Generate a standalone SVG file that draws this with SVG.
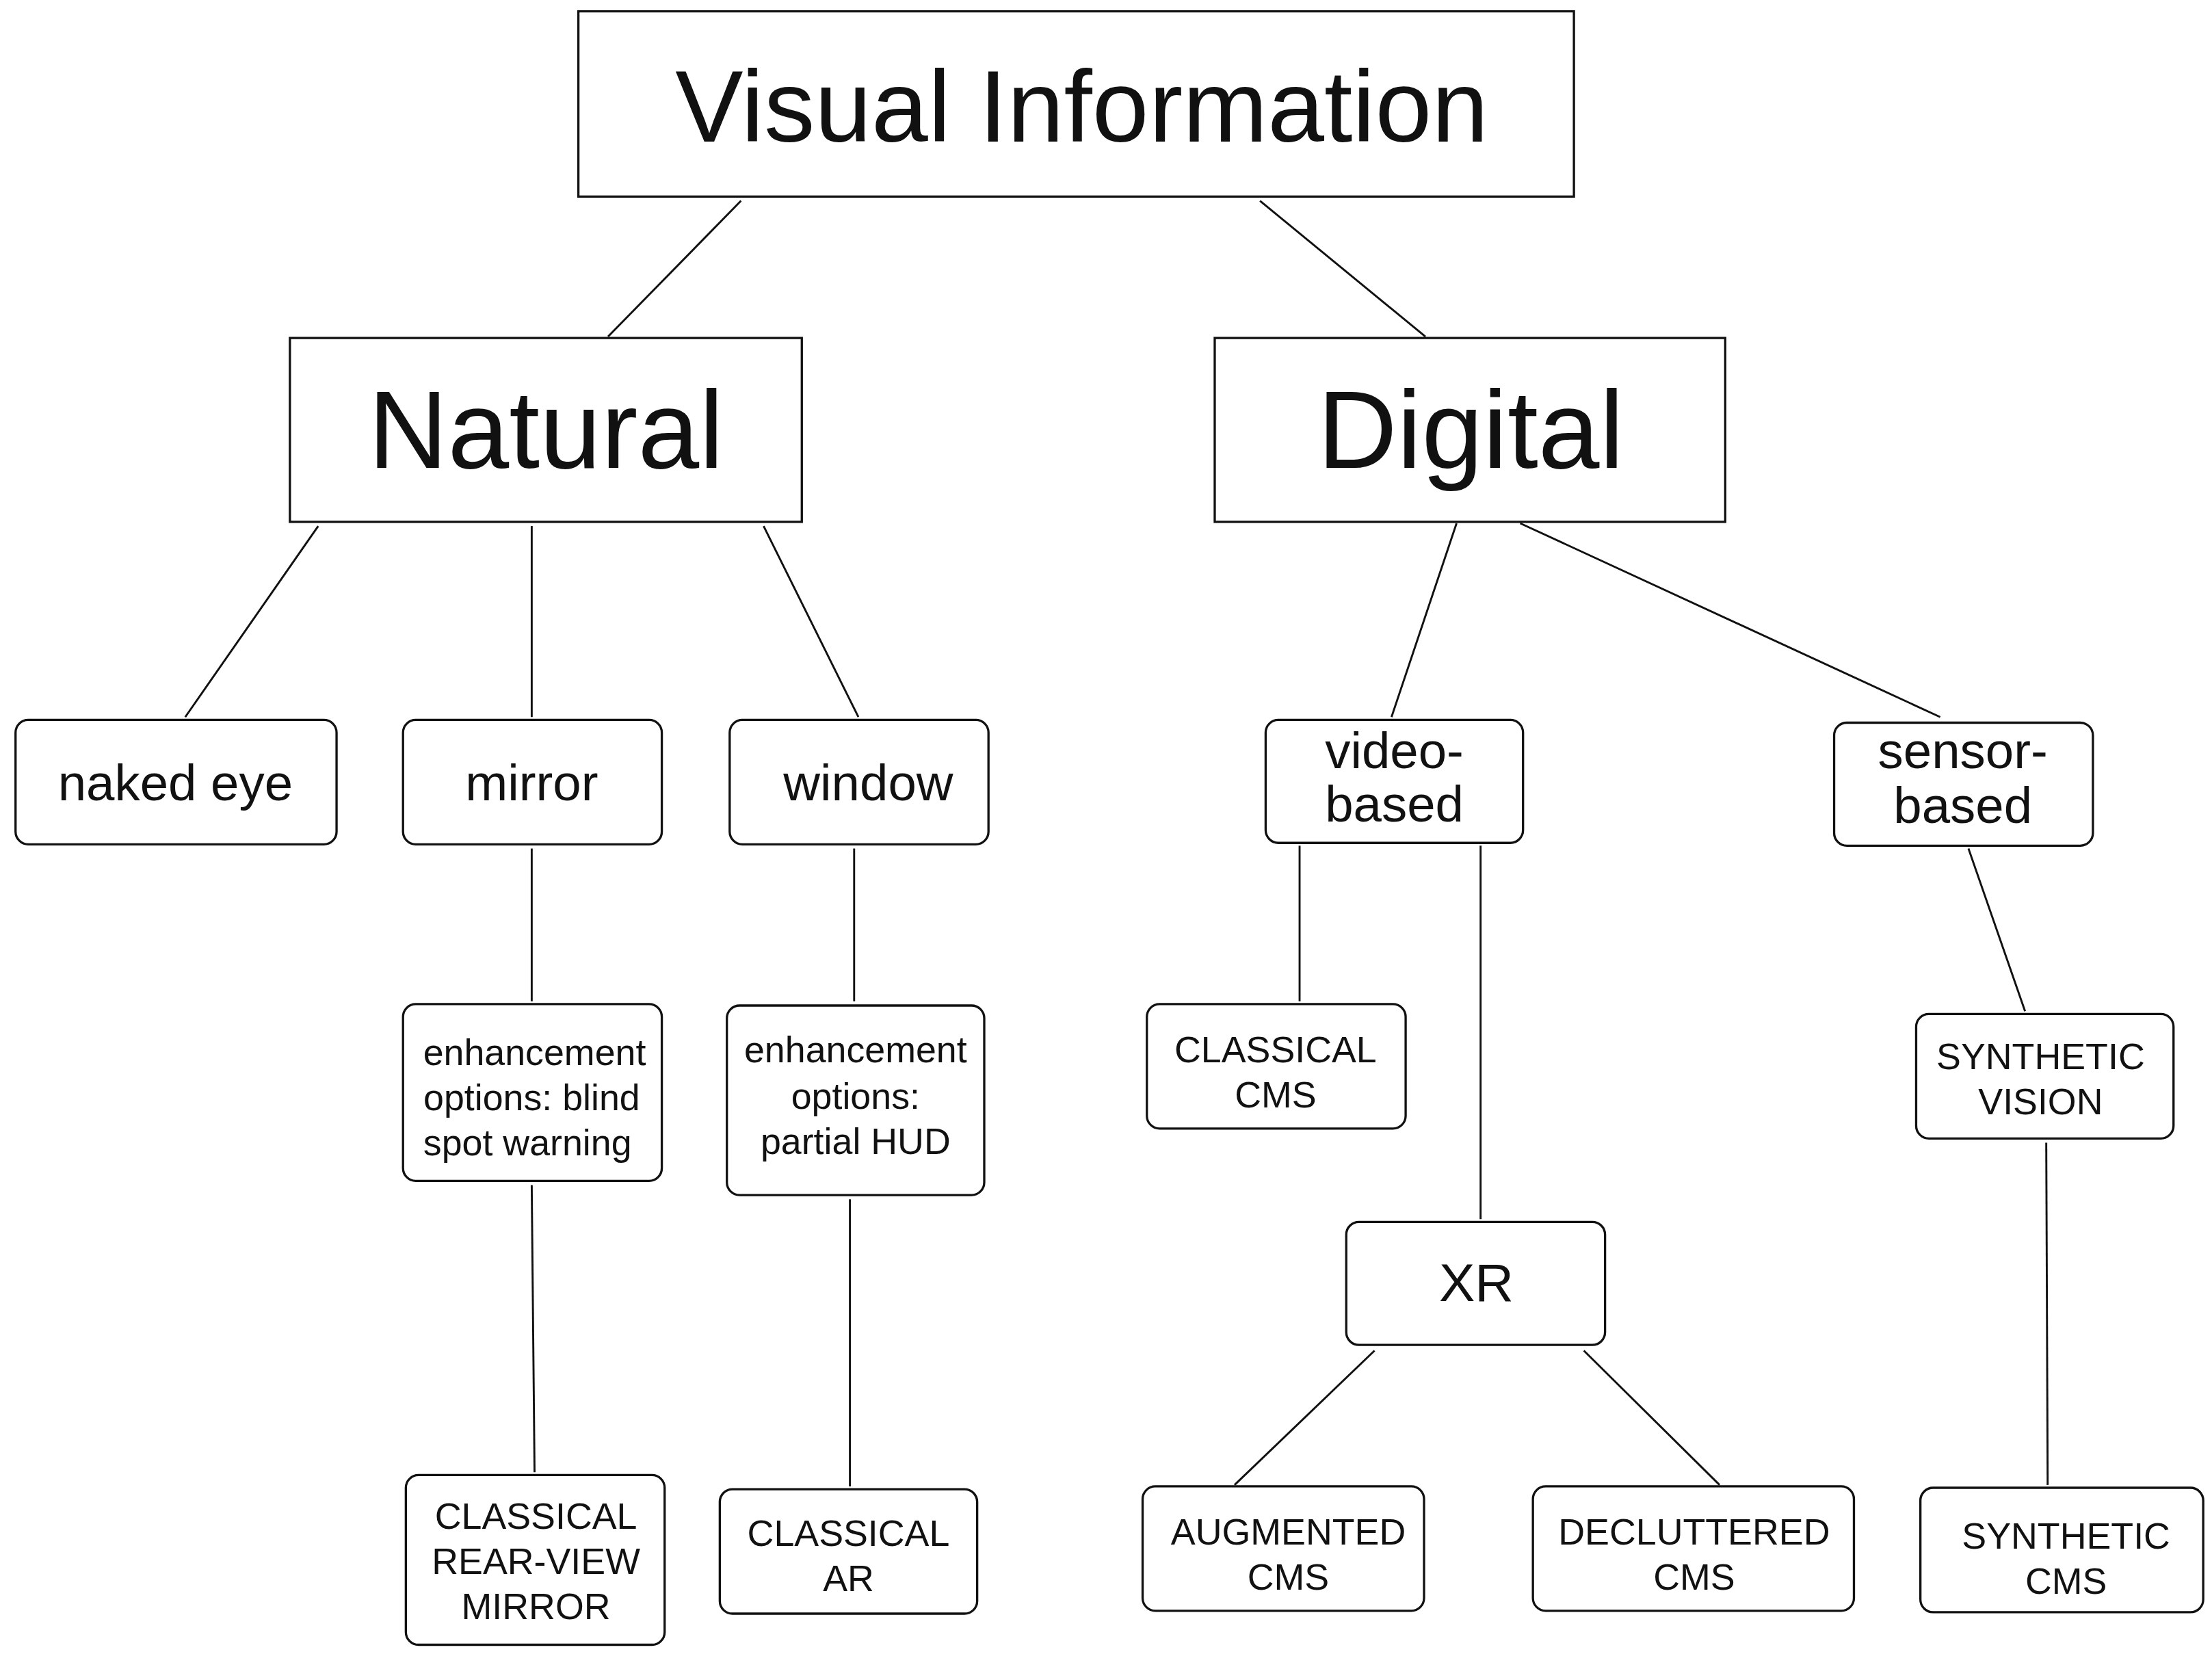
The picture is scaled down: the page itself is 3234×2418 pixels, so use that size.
<svg xmlns="http://www.w3.org/2000/svg" width="3234" height="2418" viewBox="0 0 3234 2418">
<style>
.b{fill:#fff;stroke:#111;stroke-width:1.6}
.t{font-family:"Liberation Sans",Arial,sans-serif;fill:#111;text-anchor:middle}
.c line{stroke:#111;stroke-width:1.4}
</style>
<rect width="3234" height="2418" fill="#fff"/>
<g transform="scale(2.0675)">
<g class="c" id="connectors">
<line x1="524" y1="142" x2="430" y2="238"/>
<line x1="891" y1="142" x2="1008" y2="238"/>
<line x1="225" y1="372" x2="131" y2="507"/>
<line x1="376" y1="372" x2="376" y2="507"/>
<line x1="540" y1="372" x2="607" y2="507"/>
<line x1="1030" y1="370" x2="984" y2="507"/>
<line x1="1075" y1="370" x2="1372" y2="507"/>
<line x1="376" y1="600" x2="376" y2="708"/>
<line x1="604" y1="600" x2="604" y2="708"/>
<line x1="919" y1="598" x2="919" y2="708"/>
<line x1="1047" y1="598" x2="1047" y2="862"/>
<line x1="1392" y1="600" x2="1432" y2="715"/>
<line x1="376" y1="838" x2="378" y2="1041"/>
<line x1="601" y1="848" x2="601" y2="1051"/>
<line x1="1447" y1="808" x2="1448" y2="1050"/>
<line x1="972" y1="955" x2="873" y2="1050"/>
<line x1="1120" y1="955" x2="1216" y2="1050"/>
</g>
<g id="visual"><rect class="b" x="409" y="8" width="704" height="131"/><text class="t" x="765" y="100" font-size="72">Visual Information</text></g>
<g id="natural"><rect class="b" x="205" y="239" width="362" height="130"/><text class="t" x="386" y="331" font-size="78">Natural</text></g>
<g id="digital"><rect class="b" x="859" y="239" width="361" height="130"/><text class="t" x="1040" y="331" font-size="78">Digital</text></g>
<g id="naked"><rect class="b" x="11" y="509" width="227" height="88" rx="9"/><text class="t" x="124" y="566" font-size="36">naked eye</text></g>
<g id="mirror"><rect class="b" x="285" y="509" width="183" height="88" rx="9"/><text class="t" x="376" y="566" font-size="36">mirror</text></g>
<g id="window"><rect class="b" x="516" y="509" width="183" height="88" rx="9"/><text class="t" x="614" y="566" font-size="36">window</text></g>
<g id="video"><rect class="b" x="895" y="509" width="182" height="87" rx="9"/><text class="t" x="986" y="543" font-size="36">video-</text><text class="t" x="986" y="581" font-size="36">based</text></g>
<g id="sensor"><rect class="b" x="1297" y="511" width="183" height="87" rx="9"/><text class="t" x="1388" y="543" font-size="36">sensor-</text><text class="t" x="1388" y="582" font-size="36">based</text></g>
<g id="enh1"><rect class="b" x="285" y="710" width="183" height="125" rx="9"/><text class="t" x="378" y="753" font-size="26">enhancement</text><text class="t" x="376" y="785" font-size="26">options: blind</text><text class="t" x="373" y="817" font-size="26">spot warning</text></g>
<g id="enh2"><rect class="b" x="514" y="711" width="182" height="134" rx="9"/><text class="t" x="605" y="751" font-size="26">enhancement</text><text class="t" x="605" y="784" font-size="26">options:</text><text class="t" x="605" y="816" font-size="26">partial HUD</text></g>
<g id="ccms"><rect class="b" x="811" y="710" width="183" height="88" rx="9"/><text class="t" x="902" y="751" font-size="26">CLASSICAL</text><text class="t" x="902" y="783" font-size="26">CMS</text></g>
<g id="svis"><rect class="b" x="1355" y="717" width="182" height="88" rx="9"/><text class="t" x="1443" y="756" font-size="26">SYNTHETIC</text><text class="t" x="1443" y="788" font-size="26">VISION</text></g>
<g id="xr"><rect class="b" x="952" y="864" width="183" height="87" rx="9"/><text class="t" x="1044" y="920" font-size="38">XR</text></g>
<g id="crvm"><rect class="b" x="287" y="1043" width="183" height="120" rx="9"/><text class="t" x="379" y="1081" font-size="26">CLASSICAL</text><text class="t" x="379" y="1113" font-size="26">REAR-VIEW</text><text class="t" x="379" y="1145" font-size="26">MIRROR</text></g>
<g id="car"><rect class="b" x="509" y="1053" width="182" height="88" rx="9"/><text class="t" x="600" y="1093" font-size="26">CLASSICAL</text><text class="t" x="600" y="1125" font-size="26">AR</text></g>
<g id="acms"><rect class="b" x="808" y="1051" width="199" height="88" rx="9"/><text class="t" x="911" y="1092" font-size="26">AUGMENTED</text><text class="t" x="911" y="1124" font-size="26">CMS</text></g>
<g id="dcms"><rect class="b" x="1084" y="1051" width="227" height="88" rx="9"/><text class="t" x="1198" y="1092" font-size="26">DECLUTTERED</text><text class="t" x="1198" y="1124" font-size="26">CMS</text></g>
<g id="scms"><rect class="b" x="1358" y="1052" width="200" height="88" rx="9"/><text class="t" x="1461" y="1095" font-size="26">SYNTHETIC</text><text class="t" x="1461" y="1127" font-size="26">CMS</text></g>
</g>
</svg>
